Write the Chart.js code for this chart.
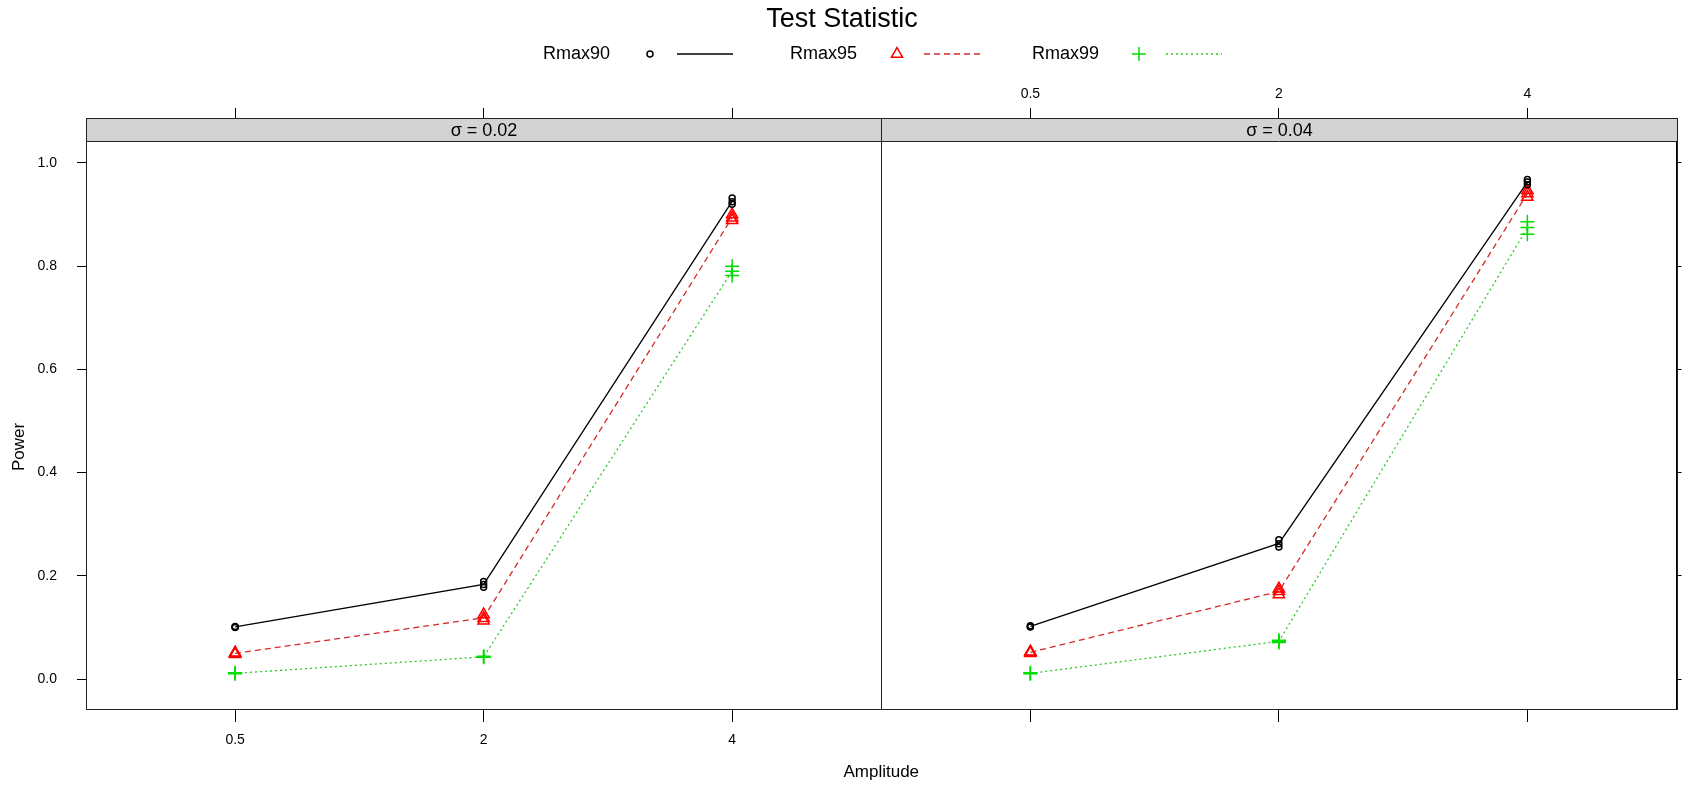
<!DOCTYPE html>
<html>
<head>
<meta charset="utf-8">
<script src="https://cdn.jsdelivr.net/npm/chart.js@4.4.0/dist/chart.umd.min.js"></script>
<style>
  html, body { margin: 0; padding: 0; background: #fff; }
  #wrap { position: relative; width: 1685px; height: 790px; }
</style>
</head>
<body>
<div id="wrap"><canvas id="powerChart" width="1685" height="790"></canvas></div>
<script>
const amplitudes = ['0.5', '2', '4'];
const panelLabels = ['\u03c3 = 0.02', '\u03c3 = 0.04'];
const seriesNames = ['Rmax90', 'Rmax95', 'Rmax99'];
const powerTicks = [0, 0.2, 0.4, 0.6, 0.8, 1.0];

// replicate power values, one inner array per amplitude (0.5, 2, 4)
const rmax90Sigma02 = [[0.100, 0.101, 0.102], [0.178, 0.183, 0.189], [0.920, 0.925, 0.932]];
const rmax95Sigma02 = [[0.048, 0.050, 0.051], [0.113, 0.118, 0.125], [0.889, 0.894, 0.900]];
const rmax99Sigma02 = [[0.010, 0.011, 0.012], [0.042, 0.043, 0.044], [0.782, 0.790, 0.800]];

const rmax90Sigma04 = [[0.101, 0.102, 0.103], [0.256, 0.262, 0.270], [0.958, 0.963, 0.968]];
const rmax95Sigma04 = [[0.050, 0.052, 0.053], [0.164, 0.170, 0.175], [0.934, 0.941, 0.947]];
const rmax99Sigma04 = [[0.010, 0.011, 0.012], [0.071, 0.073, 0.075], [0.862, 0.875, 0.886]];

const FONT = '"Liberation Sans", Arial, sans-serif';
Chart.defaults.color = '#000';
Chart.defaults.font.family = FONT;

const styles = [
  { color: '#000000', line: '#000000', pointStyle: 'circle', radius: 3, dash: [] },
  { color: '#ff0000', line: '#d42a2a', pointStyle: 'triangle', radius: 6.5, dash: [6, 4] },
  { color: '#00dd00', line: '#2cc82c', pointStyle: 'cross', radius: 7, dash: [2, 3] }
];

const panels = [
  { axis: 'x1', series: [rmax90Sigma02, rmax95Sigma02, rmax99Sigma02] },
  { axis: 'x2', series: [rmax90Sigma04, rmax95Sigma04, rmax99Sigma04] }
];

const mean = a => a.reduce((s, v) => s + v, 0) / a.length;

const datasets = [];
panels.forEach(p => {
  p.series.forEach((vals, s) => {
    const st = styles[s];
    const pts = [];
    vals.forEach((reps, i) => reps.forEach(v => pts.push({ x: i + 1, y: v })));
    datasets.push({
      label: seriesNames[s],
      xAxisID: p.axis,
      yAxisID: 'y',
      data: pts,
      showLine: false,
      pointStyle: st.pointStyle,
      pointRadius: st.radius,
      pointBorderWidth: 1.5,
      pointBorderColor: st.color,
      pointBackgroundColor: 'rgba(0,0,0,0)'
    });
  });
});
panels.forEach(p => {
  p.series.forEach((vals, s) => {
    const st = styles[s];
    datasets.push({
      label: seriesNames[s] + ' mean',
      xAxisID: p.axis,
      yAxisID: 'y',
      data: vals.map((reps, i) => ({ x: i + 1, y: mean(reps) })),
      showLine: true,
      borderColor: st.line,
      borderWidth: 1.3,
      borderDash: st.dash,
      pointRadius: 0,
      tension: 0
    });
  });
});

const catTicks = s => { s.ticks = [1, 2, 3].map(v => ({ value: v })); };
const powTicks = s => { s.ticks = powerTicks.map(v => ({ value: v })); };

function xAxis(position, stack, showLabels, h, pad) {
  return {
    type: 'linear',
    position: position,
    stack: stack,
    stackWeight: 1,
    min: 0.4,
    max: 3.6,
    afterBuildTicks: catTicks,
    afterFit: s => { s.height = h; },
    ticks: {
      font: { size: 14 },
      padding: pad,
      maxRotation: 0,
      callback: v => showLabels ? amplitudes[v - 1] : ''
    },
    grid: { drawOnChartArea: false, drawTicks: true, tickLength: position === 'top' ? 10 : 13, color: '#000', lineWidth: 1 },
    border: { display: true, color: '#000', width: 1 }
  };
}

const yMin = -0.0581, yMax = 1.0872;

const latticeFrame = {
  id: 'latticeFrame',
  afterDatasetsDraw(chart) {
    const { ctx, chartArea } = chart;
    const stripH = 23;
    ['x1', 'x2'].forEach((id, i) => {
      const s = chart.scales[id];
      const l = Math.round(s.left) + 0.5, r = Math.round(s.right) + 0.5;
      const t = Math.round(chartArea.top) + 0.5, b = Math.round(chartArea.bottom) + 0.5;
      ctx.save();
      ctx.fillStyle = '#d3d3d3';
      ctx.fillRect(l, t, r - l, stripH);
      ctx.strokeStyle = '#222';
      ctx.lineWidth = 1;
      ctx.strokeRect(l, t, r - l, b - t);
      ctx.beginPath();
      ctx.moveTo(l, t + stripH);
      ctx.lineTo(r, t + stripH);
      ctx.stroke();
      ctx.fillStyle = '#000';
      ctx.font = '18px ' + FONT;
      ctx.textAlign = 'center';
      ctx.textBaseline = 'middle';
      ctx.fillText(panelLabels[i], (l + r) / 2, t + stripH / 2 + 1);
      ctx.restore();
    });
  },
  afterDraw(chart) {
    const { ctx } = chart;
    ctx.save();
    ctx.fillStyle = '#000';
    ctx.textBaseline = 'middle';
    ctx.textAlign = 'center';
    ctx.font = '27px ' + FONT;
    ctx.fillText('Test Statistic', 842, 20);
    ctx.font = '17px ' + FONT;
    ctx.fillText('Amplitude', (chart.chartArea.left + chart.chartArea.right) / 2, 772);
    ctx.save();
    ctx.translate(19, 447);
    ctx.rotate(-Math.PI / 2);
    ctx.fillText('Power', 0, 0);
    ctx.restore();

    const legendX = [543, 790, 1032];
    ctx.font = '18px ' + FONT;
    ctx.textAlign = 'left';
    seriesNames.forEach((name, s) => {
      const st = styles[s];
      const x = legendX[s], y = 54;
      ctx.fillStyle = '#000';
      ctx.fillText(name, x, y);
      ctx.strokeStyle = st.color;
      ctx.fillStyle = 'rgba(0,0,0,0)';
      ctx.lineWidth = 1.5;
      Chart.helpers.drawPoint(ctx, { pointStyle: st.pointStyle, radius: st.radius, rotation: 0, borderWidth: 1.5 }, x + 107, y);
      ctx.strokeStyle = st.line;
      ctx.lineWidth = 1.3;
      ctx.setLineDash(st.dash);
      ctx.beginPath();
      ctx.moveTo(x + 134, y);
      ctx.lineTo(x + 190, y);
      ctx.stroke();
      ctx.setLineDash([]);
    });
    ctx.restore();
  }
};

new Chart(document.getElementById('powerChart'), {
  type: 'scatter',
  data: { datasets: datasets },
  options: {
    responsive: false,
    animation: false,
    devicePixelRatio: 1,
    layout: { padding: 0 },
    plugins: { legend: { display: false }, title: { display: false }, tooltip: { enabled: false } },
    scales: {
      x1: xAxis('bottom', 'bottom', true, 81, 10),
      x2: xAxis('bottom', 'bottom', false, 81, 10),
      // top boxes are laid out right-to-left, so the labelled one goes first
      topRight: xAxis('top', 'top', true, 118, 5),
      topLeft: xAxis('top', 'top', false, 118, 5),
      y: {
        type: 'linear',
        position: 'left',
        min: yMin,
        max: yMax,
        afterBuildTicks: powTicks,
        afterFit: s => { s.width = 86; },
        ticks: { font: { size: 14 }, padding: 20, includeBounds: false, callback: v => v.toFixed(1) },
        grid: { drawOnChartArea: false, drawTicks: true, tickLength: 9, color: '#000' },
        border: { display: true, color: '#000', width: 1 }
      },
      yr: {
        type: 'linear',
        position: 'right',
        min: yMin,
        max: yMax,
        afterBuildTicks: powTicks,
        afterFit: s => { s.width = 5; },
        ticks: { display: false },
        grid: { drawOnChartArea: false, drawTicks: true, tickLength: 5, color: '#000' },
        border: { display: true, color: '#000', width: 1 }
      }
    }
  },
  plugins: [latticeFrame]
});
</script>
</body>
</html>
